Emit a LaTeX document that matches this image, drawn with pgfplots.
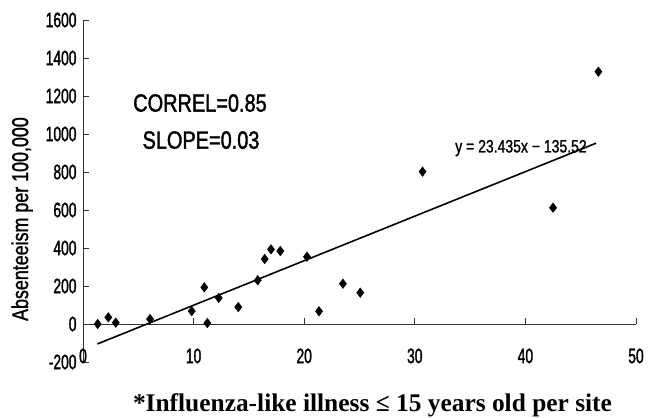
\documentclass[border=0pt]{standalone}
\usepackage{pgfplots}
\pgfplotsset{compat=1.18}
\usepackage{fontspec}
\setmainfont{Liberation Serif}
\newfontfamily\narrow[FakeStretch=0.66,FakeBold=1.5]{Liberation Sans}
\newfontfamily\narrowb[FakeStretch=0.8,FakeBold=1.5]{Liberation Sans}
\newfontfamily\narrowc[FakeStretch=0.78,FakeBold=1.2]{Liberation Sans}
\begin{document}
\begin{tikzpicture}
\useasboundingbox (-83bp,-56bp) rectangle (575bp,362bp);
\begin{axis}[
  at={(0,0)}, anchor=south west,
  scale only axis, width=553bp, height=342bp,
  xmin=0, xmax=50, ymin=-200, ymax=1600,
  axis x line=middle, axis y line=left,
  axis line style={-, black!80, line width=0.9bp},
  xtick={0,10,...,50}, ytick={-200,0,...,1600},
  tick align=inside, major tick length=6bp,
  tick style={black!80, line width=0.9bp},
  hide obscured x ticks=false, hide obscured y ticks=false,
  /pgf/number format/assume math mode=true,
  /pgf/number format/1000 sep={},
  ticklabel style={font=\narrow\fontsize{21}{21}\selectfont},
  xticklabel style={yshift=-21bp},
  yticklabel style={xshift=-3bp},
  clip=false,
]
\addplot[only marks, mark=diamond*, mark size=4.8bp, black] coordinates {
(1.33,0) (2.29,35) (2.96,7) (6.06,26) (9.83,68) (10.97,193) (11.24,5)
(12.27,137) (14.04,89) (15.80,230) (16.43,342) (17.0,393) (17.84,384)
(20.25,354) (21.34,67) (23.5,212) (25.07,165) (30.7,802) (42.5,612) (46.6,1328)
};
\addplot[black, line width=1.6bp] coordinates {(1.3,-105.05) (46.4,951.9)};
\node[font=\narrowb\fontsize{25}{25}\selectfont] at (axis cs:10.58,1163) {CORREL=0.85};
\node[font=\narrowb\fontsize{25}{25}\selectfont] at (axis cs:10.67,968) {SLOPE=0.03};
\node[font=\narrowc\fontsize{18}{18}\selectfont] at (axis cs:39.6,926) {y = 23.435x − 135.52};
\node[font=\narrowc\fontsize{23}{23}\selectfont, rotate=90] at (axis description cs:-0.11,0.418) {Absenteeism per 100,000};
\node[font=\bfseries\fontsize{25.5}{25.5}\selectfont, anchor=base] at (axis description cs:0.5235,-0.146) {*Influenza-like illness ≤ 15 years old per site};
\end{axis}
\end{tikzpicture}
\end{document}
